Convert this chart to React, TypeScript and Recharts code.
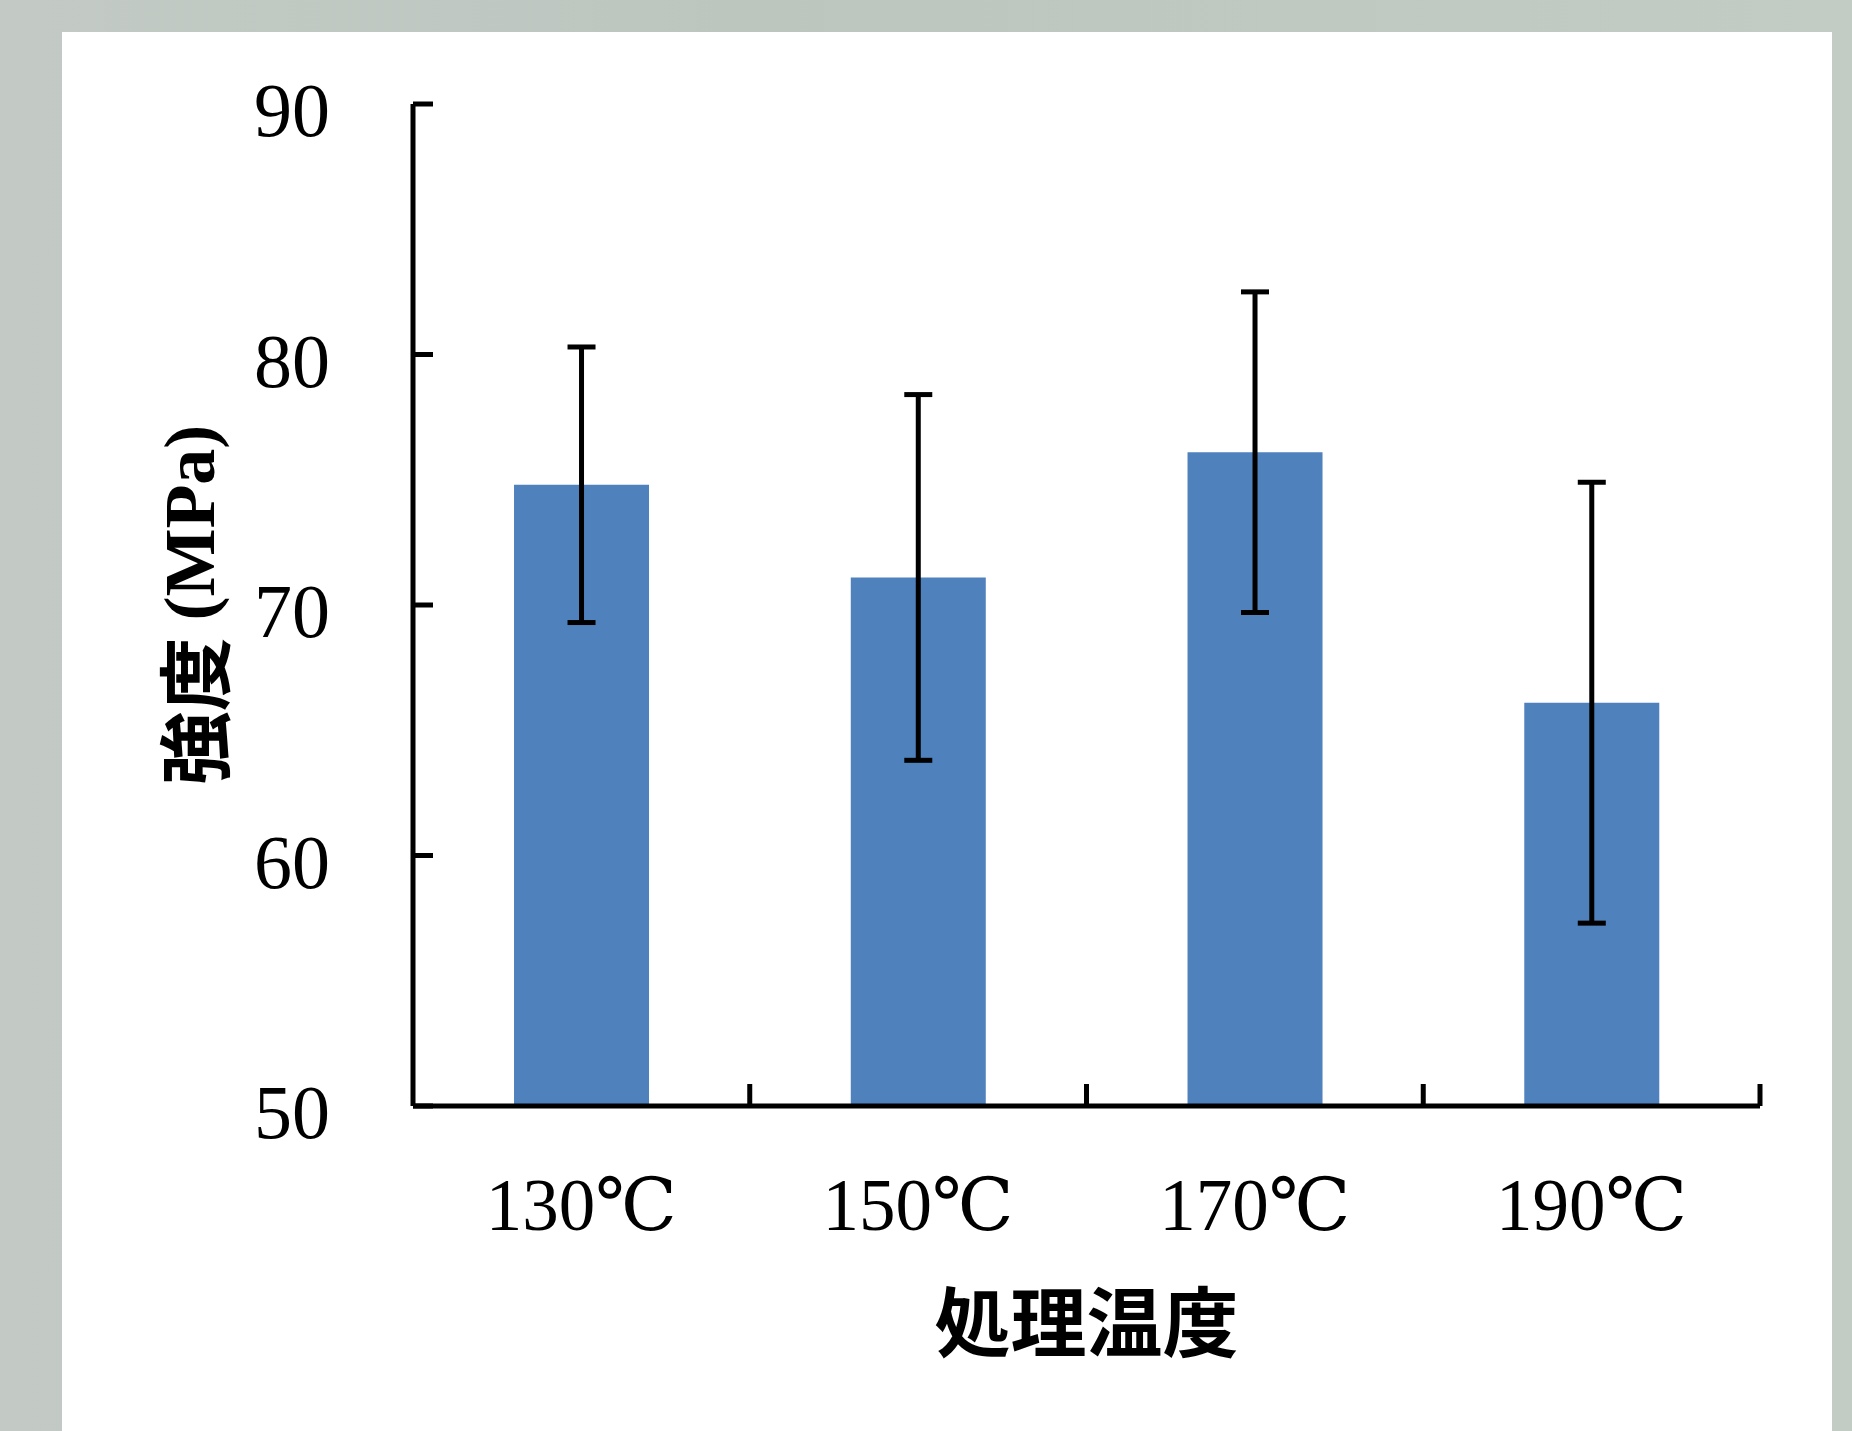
import React from 'react';
import { BarChart, Bar, XAxis, YAxis, ErrorBar } from 'recharts';

const CATEGORIES = ['130℃', '150℃', '170℃', '190℃'];
const STRENGTH = [74.8, 71.1, 76.1, 66.1];
const STRENGTH_ERR = [5.5, 7.3, 6.4, 8.8];
const Y_TICKS = [50, 60, 70, 80, 90];
const X_TITLE = '処理温度';
const Y_TITLE_CJK = '強度 ';
const Y_TITLE_UNIT = '(MPa)';

const data = CATEGORIES.map((name, i) => ({
  name,
  value: STRENGTH[i],
  err: STRENGTH_ERR[i],
}));

const CHART_W = 1770;
const CHART_H = 1399;
const MARGIN = { top: 72, right: 72, left: 0, bottom: 0 };
const Y_AXIS_W = 351;
const X_AXIS_H = 325;
const PLOT_W = CHART_W - MARGIN.right - Y_AXIS_W;
const LINE_W = 5;

const SERIF = '"Liberation Serif", "Times New Roman", "DejaVu Serif", "Noto Sans CJK JP", serif';
const CJK = '"Noto Sans CJK JP", "Noto Sans CJK SC", sans-serif';

function YTick(props: any) {
  const { x, y, payload } = props;
  return (
    <g>
      <line x1={x} y1={y} x2={x + 20} y2={y} stroke="#000" strokeWidth={LINE_W} />
      <text x={x - 83} y={y + 32} textAnchor="end" fontFamily={SERIF} fontSize={76} fill="#000">
        {payload.value}
      </text>
    </g>
  );
}

function XTick(props: any) {
  const { x, y, payload } = props;
  const band = PLOT_W / CATEGORIES.length;
  return (
    <g>
      <line x1={x + band / 2} y1={y} x2={x + band / 2} y2={y - 22} stroke="#000" strokeWidth={LINE_W} />
      <text x={x} y={y + 124} textAnchor="middle" fontFamily={SERIF} fontSize={73} fill="#000">
        {payload.value}
      </text>
    </g>
  );
}

function YTitle(props: any) {
  const { viewBox } = props;
  const cx = 128;
  const cy = viewBox.y + viewBox.height / 2;
  return (
    <text
      x={cx}
      y={cy}
      transform={`rotate(-90, ${cx}, ${cy})`}
      textAnchor="middle"
      dominantBaseline="central"
      fontWeight="bold"
      fill="#000"
    >
      <tspan fontFamily={CJK} fontSize={74}>{Y_TITLE_CJK}</tspan>
      <tspan fontFamily={SERIF} fontSize={72}>{Y_TITLE_UNIT}</tspan>
    </text>
  );
}

function XTitle(props: any) {
  const { viewBox } = props;
  const cx = viewBox.x + viewBox.width / 2;
  return (
    <text
      x={cx}
      y={viewBox.y + 212}
      textAnchor="middle"
      dominantBaseline="central"
      fontFamily={CJK}
      fontWeight="bold"
      fontSize={76}
      fill="#000"
    >
      {X_TITLE}
    </text>
  );
}

export default function App() {
  return (
    <div
      style={{
        position: 'fixed',
        left: 0,
        top: 0,
        width: 1852,
        height: 1431,
        overflow: 'hidden',
        background: 'linear-gradient(90deg, #c3cac5 0%, #bcc6bf 40%, #c2cbc4 100%)',
      }}
    >
      <div
        style={{
          position: 'absolute',
          left: 62,
          top: 32,
          width: CHART_W,
          height: CHART_H,
          background: '#fff',
        }}
      >
        <BarChart width={CHART_W} height={CHART_H} data={data} margin={MARGIN} barCategoryGap="30%">
          <XAxis
            dataKey="name"
            height={X_AXIS_H}
            axisLine={{ stroke: '#000', strokeWidth: LINE_W }}
            tickLine={false}
            tickSize={0}
            tickMargin={0}
            tick={<XTick />}
            interval={0}
            label={{ content: <XTitle /> }}
          />
          <YAxis
            width={Y_AXIS_W}
            domain={[50, 90]}
            ticks={Y_TICKS}
            allowDataOverflow
            axisLine={{ stroke: '#000', strokeWidth: LINE_W }}
            tickLine={false}
            tickSize={0}
            tickMargin={0}
            tick={<YTick />}
            interval={0}
            label={{ content: <YTitle /> }}
          />
          <Bar dataKey="value" fill="#4f81bd" isAnimationActive={false}>
            <ErrorBar dataKey="err" width={14} strokeWidth={LINE_W} stroke="#000" isAnimationActive={false} />
          </Bar>
        </BarChart>
      </div>
    </div>
  );
}
